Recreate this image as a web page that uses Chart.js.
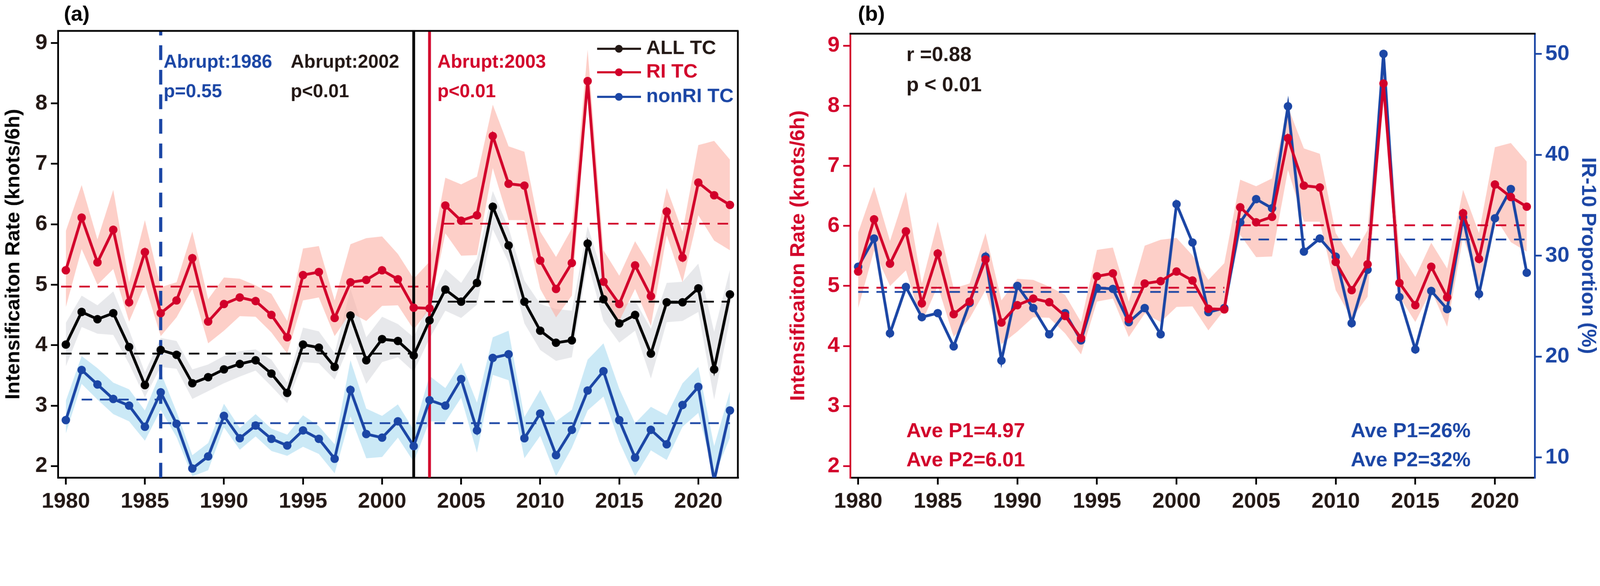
<!DOCTYPE html>
<html>
<head>
<meta charset="utf-8">
<script src="https://cdn.jsdelivr.net/npm/chart.js@4.4.1/dist/chart.umd.min.js"></script>
<style>
  html, body { margin: 0; padding: 0; background: #fff; overflow: hidden; }
  .wrap { position: absolute; top: 0; }
  .wrap canvas { display: block; width: 100% !important; height: auto !important; }
</style>
</head>
<body>
<div class="wrap" style="left:0; width:47.8280vw"><canvas id="chartA"></canvas></div>
<div class="wrap" style="left:48.2668vw; width:51.7332vw"><canvas id="chartB"></canvas></div>
<script>
// ---- data ----
const years = [];
for (let y = 1980; y <= 2022; y++) years.push(y);

const riTC = [5.24,6.11,5.37,5.91,4.71,5.54,4.53,4.74,5.44,4.39,4.68,4.79,4.73,4.50,4.13,5.16,5.21,4.45,5.04,5.08,5.24,5.09,4.62,4.61,
  6.31,6.06,6.15,7.46,6.67,6.64,5.40,4.93,5.36,8.37,5.05,4.68,5.32,4.81,6.21,5.45,6.69,6.48,6.32];
const riUpper = [5.89,6.65,5.75,6.57,5.04,6.07,4.96,5.04,5.88,4.76,5.12,5.10,4.99,4.85,4.40,5.60,5.64,4.74,5.67,5.77,5.80,5.51,5.10,5.38,
  6.77,6.66,6.79,7.98,7.29,7.20,5.88,5.46,5.93,8.89,5.57,5.15,5.72,5.29,6.60,5.88,7.31,7.38,7.07];
const riLower = [4.63,5.59,5.00,5.26,4.39,5.00,4.15,4.46,4.93,4.03,4.24,4.48,4.47,4.21,3.86,4.74,4.79,4.15,4.54,4.40,4.65,4.66,4.26,4.60,
  5.85,5.48,5.49,6.93,6.07,6.07,4.93,4.46,4.82,8.24,4.82,4.40,4.93,4.32,5.82,5.04,6.15,5.73,5.57];

const allTC = [4.01,4.55,4.43,4.53,3.97,3.34,3.92,3.84,3.37,3.47,3.60,3.69,3.75,3.53,3.21,4.01,3.96,3.64,4.49,3.75,4.10,4.07,3.83,4.41,
  4.92,4.72,5.03,6.29,5.65,4.72,4.24,4.04,4.08,5.68,4.76,4.36,4.50,3.86,4.71,4.71,4.94,3.60,4.84];
const allUpper = [4.37,4.82,4.66,4.89,4.25,3.55,4.12,4.07,3.60,3.68,3.82,3.90,3.93,3.76,3.38,4.29,4.23,3.87,4.93,4.13,4.47,4.35,4.13,4.72,
  5.26,5.03,5.43,6.55,5.94,5.07,4.68,4.60,4.57,5.97,5.14,4.64,4.74,4.27,5.03,5.05,5.35,4.22,5.25];
const allLower = [3.65,4.30,4.19,4.17,3.69,3.14,3.64,3.61,3.11,3.24,3.37,3.48,3.58,3.32,3.04,3.72,3.70,3.43,4.04,3.36,3.72,3.80,3.56,4.11,
  4.57,4.45,4.67,5.92,5.37,4.36,3.92,3.74,3.80,5.37,4.40,4.04,4.24,3.45,4.38,4.40,4.55,3.10,4.44];

const nonRiTC = [2.76,3.59,3.35,3.11,3.00,2.65,3.22,2.70,1.96,2.16,2.83,2.46,2.67,2.45,2.34,2.59,2.45,2.12,3.26,2.53,2.47,2.74,2.33,3.09,
  3.00,3.44,2.59,3.79,3.85,2.46,2.87,2.18,2.60,3.25,3.57,2.76,2.14,2.60,2.36,3.01,3.31,1.76,2.92];
const nonRiUpper = [3.08,3.82,3.62,3.38,3.27,2.92,3.55,2.90,2.18,2.38,3.03,2.63,2.86,2.62,2.52,2.84,2.66,2.36,3.75,2.95,2.83,3.02,2.60,3.49,
  3.29,3.71,3.05,4.13,4.24,2.81,3.26,2.74,2.93,3.76,4.03,3.28,2.71,2.98,2.84,3.37,3.64,2.33,3.24];
const nonRiLower = [2.54,3.36,3.10,2.86,2.74,2.42,2.93,2.48,1.83,1.93,2.64,2.27,2.49,2.25,2.17,2.32,2.20,1.88,2.82,2.13,2.15,2.47,2.07,2.74,
  2.73,3.13,2.22,3.51,3.42,2.13,2.50,1.83,2.30,2.92,3.15,2.40,1.83,2.26,2.10,2.65,2.88,1.83,2.47];

const ir10 = [28.9,31.7,22.3,26.9,23.9,24.3,21.0,25.3,29.9,19.6,27.0,24.8,22.2,24.3,21.6,26.8,26.7,23.4,24.8,22.2,35.1,31.3,24.4,24.8,
  33.3,35.6,34.7,44.8,30.4,31.7,29.9,23.3,28.6,50.0,25.9,20.7,26.5,24.7,33.8,26.2,33.7,36.6,28.3];

// period means [xStart, xEnd, value]
const riMeansA = [[1979.7, 2002.9, 4.97], [2003.9, 2022, 6.01]];
const allMeansA = [[1979.7, 2002, 3.86], [2003, 2022, 4.72]];
const nonRiMeansA = [[1981, 1986, 3.10], [1986, 2022, 2.71]];
const riMeansB = [[1980, 2003, 4.97], [2004, 2022, 6.01]];
const irMeansB = [[1980, 2003, 26.4], [2004, 2022, 31.6]];

const abruptNonRi = 1986, abruptAll = 2002, abruptRi = 2003;
const xTicks = [1980, 1985, 1990, 1995, 2000, 2005, 2010, 2015, 2020];
const yTicksRate = [2, 3, 4, 5, 6, 7, 8, 9];
const yTicksIr = [10, 20, 30, 40, 50];

// ---- styles ----
const RED = '#D2002A', BLUE = '#1B46A5', BLACK = '#000000', TXT = '#231815';
const RED_BAND = 'rgba(252,178,166,0.62)', GREY_BAND = 'rgba(215,217,222,0.6)', BLUE_BAND = 'rgba(160,215,238,0.55)';
const FONT = '"Liberation Sans", Arial, sans-serif';
const Y_MIN = 1.81, Y_MAX = 9.2;

const pts = arr => arr.map((v, i) => ({ x: years[i], y: v }));

function seriesSet(label, vals, color, yAxis) {
  return { label, data: pts(vals), borderColor: color, backgroundColor: color, borderWidth: 8,
    pointRadius: 12, pointHoverRadius: 12, pointBackgroundColor: color, pointBorderWidth: 0,
    fill: false, tension: 0, order: 1, yAxisID: yAxis || 'y' };
}
function bandSets(up, lo, color, yAxis) {
  return [
    { data: pts(up), borderWidth: 0, pointRadius: 0, backgroundColor: color, fill: '+1', order: 5, yAxisID: yAxis || 'y' },
    { data: pts(lo), borderWidth: 0, pointRadius: 0, backgroundColor: color, fill: false, order: 5, yAxisID: yAxis || 'y' }
  ];
}
function meanSets(means, color, yAxis) {
  return means.map(m => ({ data: [{ x: m[0], y: m[2] }, { x: m[1], y: m[2] }], borderColor: color,
    borderWidth: 5, borderDash: [30, 22], pointRadius: 0, fill: false, order: 3, yAxisID: yAxis || 'y' }));
}
function vLine(x, color, dash) {
  return { data: [{ x: x, y: Y_MIN }, { x: x, y: Y_MAX }], borderColor: color, borderWidth: dash ? 9 : 8,
    borderDash: dash || [], pointRadius: 0, fill: false, order: 2 };
}

function xScale() {
  return { type: 'linear', min: 1979.5, max: 2022.5,
    afterBuildTicks: s => { s.ticks = xTicks.map(v => ({ value: v })); },
    afterFit: s => { s.height = 140; },
    grid: { drawOnChartArea: false, drawTicks: true, tickLength: 20, lineWidth: 5, color: BLACK },
    border: { display: true, color: BLACK, width: 5 },
    ticks: { color: TXT, font: { family: FONT, size: 62, weight: 'bold' }, padding: 12, maxRotation: 0,
      callback: v => String(v) } };
}
function rateScale(color, width, titlePad) {
  return { type: 'linear', position: 'left', min: Y_MIN, max: Y_MAX,
    afterBuildTicks: s => { s.ticks = yTicksRate.map(v => ({ value: v })); },
    afterFit: s => { s.width = width; },
    grid: { drawOnChartArea: false, drawTicks: true, tickLength: 20, lineWidth: 5, color: color },
    border: { display: true, color: color, width: 5 },
    title: { display: true, text: 'Intensificaiton Rate (knots/6h)', color: color,
      font: { family: FONT, size: 58, weight: 'bold' }, padding: { top: titlePad, bottom: 0 } },
    ticks: { color: color === BLACK ? TXT : color, font: { family: FONT, size: 62, weight: 'bold' }, padding: 10 } };
}

const fontOf = s => 'bold ' + s + 'px ' + FONT;
function textPlugin(items, frameSides) {
  return {
    id: 'texts',
    afterDatasetsDraw(chart) {
      const c = chart.ctx, a = chart.chartArea;
      c.save();
      // frame sides not covered by axes
      c.strokeStyle = BLACK; c.lineWidth = 5;
      c.beginPath();
      if (frameSides.top) { c.moveTo(a.left - 2, a.top); c.lineTo(a.right + 2, a.top); }
      if (frameSides.right) { c.moveTo(a.right, a.top); c.lineTo(a.right, a.bottom); }
      c.stroke();
      items.forEach(t => {
        c.font = fontOf(t.size); c.fillStyle = t.color; c.textBaseline = 'middle'; c.textAlign = 'left';
        c.fillText(t.text, t.x, t.y);
        if (t.legend) {
          c.strokeStyle = t.color; c.lineWidth = 6;
          c.beginPath(); c.moveTo(t.x - 140, t.y); c.lineTo(t.x - 15, t.y); c.stroke();
          c.beginPath(); c.arc(t.x - 78, t.y, 11, 0, Math.PI * 2); c.fillStyle = t.color; c.fill();
        }
      });
      c.restore();
    }
  };
}

Chart.defaults.animation = false;
Chart.defaults.responsive = false;
Chart.defaults.devicePixelRatio = 1;
Chart.defaults.plugins.legend.display = false;
Chart.defaults.plugins.tooltip.enabled = false;

// ---- panel (a) ----
const cA = document.getElementById('chartA');
cA.width = 2180; cA.height = 1501;
new Chart(cA, {
  type: 'line',
  data: { datasets: [
    ...bandSets(riUpper, riLower, RED_BAND),
    ...bandSets(allUpper, allLower, GREY_BAND),
    ...bandSets(nonRiUpper, nonRiLower, BLUE_BAND),
    ...meanSets(riMeansA, RED), ...meanSets(allMeansA, BLACK), ...meanSets(nonRiMeansA, BLUE),
    vLine(abruptNonRi, BLUE, [42, 28]), vLine(abruptAll, BLACK), vLine(abruptRi, RED),
    seriesSet('ALL TC', allTC, BLACK), seriesSet('RI TC', riTC, RED), seriesSet('nonRI TC', nonRiTC, BLUE)
  ] },
  options: {
    devicePixelRatio: 1,
    layout: { padding: { top: 88, right: 78, left: 0, bottom: 0 } },
    scales: { x: xScale(), y: rateScale(BLACK, 165, 4) }
  },
  plugins: [textPlugin([
    { text: '(a)', x: 182, y: 42, size: 60, color: BLACK },
    { text: 'Abrupt:1986', x: 466, y: 178, size: 53, color: BLUE },
    { text: 'p=0.55', x: 466, y: 262, size: 53, color: BLUE },
    { text: 'Abrupt:2002', x: 828, y: 178, size: 53, color: TXT },
    { text: 'p<0.01', x: 828, y: 262, size: 53, color: TXT },
    { text: 'Abrupt:2003', x: 1246, y: 178, size: 53, color: RED },
    { text: 'p<0.01', x: 1246, y: 262, size: 53, color: RED },
    { text: 'ALL TC', x: 1841, y: 139, size: 56, color: TXT, legend: true },
    { text: 'RI TC', x: 1841, y: 206, size: 56, color: RED, legend: true },
    { text: 'nonRI TC', x: 1841, y: 276, size: 56, color: BLUE, legend: true }
  ], { top: true, right: true })]
});

// ---- panel (b) ----
const cB = document.getElementById('chartB');
cB.width = 2358; cB.height = 1501;
new Chart(cB, {
  type: 'line',
  data: { datasets: [
    ...bandSets(riUpper, riLower, RED_BAND),
    ...meanSets(riMeansB, RED), ...meanSets(irMeansB, BLUE, 'y2'),
    seriesSet('RI TC', riTC, RED), seriesSet('IR-10', ir10, BLUE, 'y2')
  ] },
  options: {
    devicePixelRatio: 1,
    layout: { padding: { top: 96, right: 0, left: 0, bottom: 0 } },
    scales: {
      x: xScale(),
      y: rateScale(RED, 222, 40),
      y2: { type: 'linear', position: 'right', min: 8, max: 52,
        afterBuildTicks: s => { s.ticks = yTicksIr.map(v => ({ value: v })); },
        afterFit: s => { s.width = 186; },
        grid: { drawOnChartArea: false, drawTicks: true, tickLength: 20, lineWidth: 5, color: BLUE },
        border: { display: true, color: BLUE, width: 5 },
        title: { display: true, text: 'IR-10 Proportion (%)', color: BLUE,
          font: { family: FONT, size: 58, weight: 'bold' }, padding: { top: 0, bottom: 6 } },
        ticks: { color: BLUE, font: { family: FONT, size: 62, weight: 'bold' }, padding: 10 } }
    }
  },
  plugins: [textPlugin([
    { text: '(b)', x: 244, y: 42, size: 60, color: BLACK },
    { text: 'r =0.88', x: 382, y: 158, size: 58, color: TXT },
    { text: 'p < 0.01', x: 382, y: 244, size: 58, color: TXT },
    { text: 'Ave P1=4.97', x: 382, y: 1230, size: 58, color: RED },
    { text: 'Ave P2=6.01', x: 382, y: 1313, size: 58, color: RED },
    { text: 'Ave P1=26%', x: 1648, y: 1230, size: 58, color: BLUE },
    { text: 'Ave P2=32%', x: 1648, y: 1313, size: 58, color: BLUE }
  ], { top: true, right: false })]
});
</script>
</body>
</html>
